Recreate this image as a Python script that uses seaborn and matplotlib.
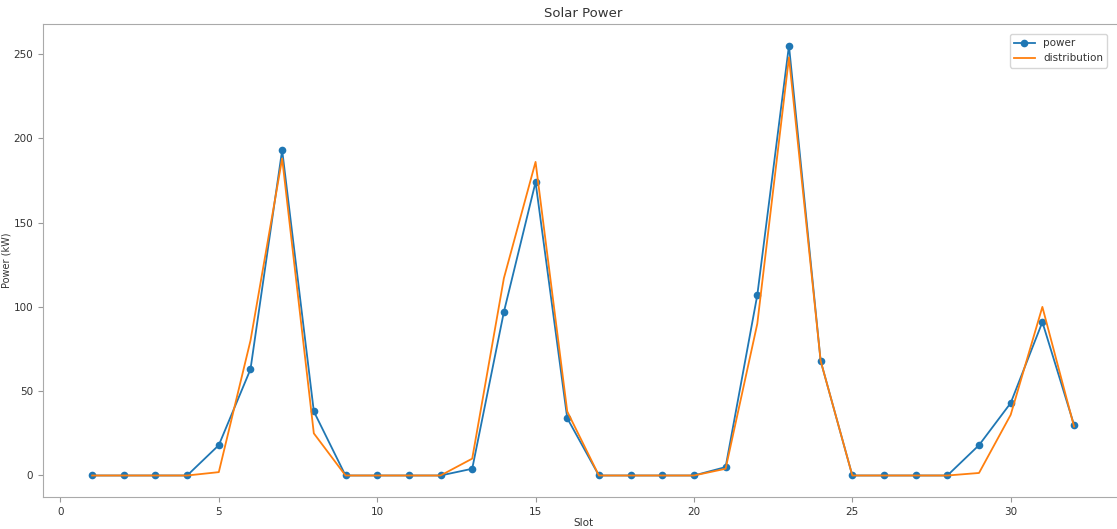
import seaborn as sns
import pandas as pd
import matplotlib.pyplot as plt

slots = list(range(1, 33))
power = [0, 0, 0, 0, 18, 63, 193, 38,
         0, 0, 0, 0, 4, 97, 174, 34,
         0, 0, 0, 0, 5, 107, 255, 68,
         0, 0, 0, 0, 18, 43, 91, 30]
distribution = [0, 0, 0, 0, 2, 80, 188, 25,
                0, 0, 0, 0, 10, 117, 186, 38,
                0, 0, 0, 0, 4, 90, 248, 68,
                0, 0, 0, 0, 1.5, 36, 100, 29]

df = pd.DataFrame({'Slot': slots, 'power': power, 'distribution': distribution})

plt.rcParams['font.size'] = 7.5
plt.rcParams['text.color'] = '#333333'
plt.rcParams['axes.labelcolor'] = '#333333'
plt.rcParams['xtick.color'] = '#999999'
plt.rcParams['ytick.color'] = '#999999'
plt.rcParams['xtick.labelcolor'] = '#333333'
plt.rcParams['ytick.labelcolor'] = '#333333'

fig = plt.figure(figsize=(11.17, 5.29), dpi=100)
ax = fig.add_axes([0.0385, 0.0605, 0.967, 0.894])
sns.lineplot(data=df, x='Slot', y='power', marker='o', markeredgewidth=0,
             markersize=5.5, linewidth=1.3, color='#1f77b4', label='power', ax=ax)
sns.lineplot(data=df, x='Slot', y='distribution', color='#ff7f0e',
             linewidth=1.3, label='distribution', ax=ax)
for s in ax.spines.values():
    s.set_color('#aaaaaa')
ax.spines['right'].set_visible(False)
ax.set_title('Solar Power', fontsize=9.5, pad=5)
ax.set_xlabel('Slot', labelpad=1)
ax.set_ylabel('Power (kW)', fontsize=7)
ax.yaxis.set_label_coords(-0.029, 0.5)
ax.legend(loc='upper right', bbox_to_anchor=(0.99, 0.99), fontsize=7.5)
fig.savefig('out.png')
